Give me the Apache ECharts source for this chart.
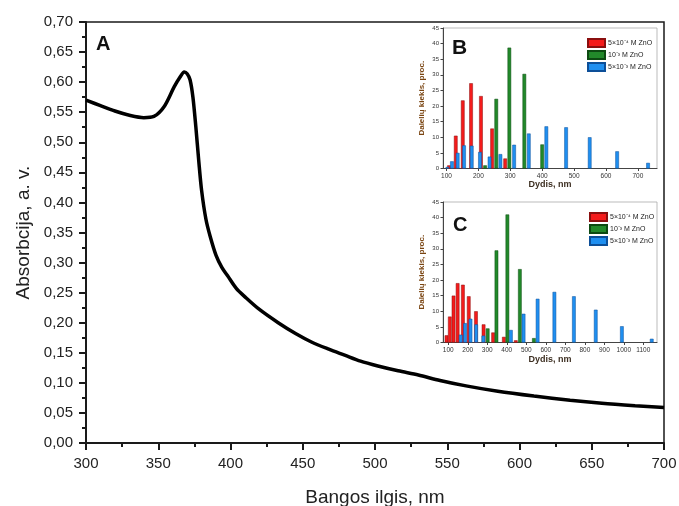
<!DOCTYPE html>
<html><head><meta charset="utf-8">
<script src="https://cdn.jsdelivr.net/npm/echarts@6/dist/echarts.min.js"></script>
<style>html,body{margin:0;padding:0;background:#fff}#c{width:679px;height:506px}</style>
</head><body><div id="c"></div>
<script>
// Main absorption spectrum
const wavelengthNm = [300,310,320,330,340,347,354,361,365,368,370,372,374,376,378,380,383,386,390,394,398,404,410,420,433,445,456,468,479,490,502,516,530,545,563,585,610,635,657,680,700];
const absorbance  = [0.570,0.561,0.552,0.545,0.541,0.543,0.559,0.592,0.608,0.617,0.614,0.604,0.575,0.526,0.470,0.420,0.372,0.343,0.312,0.292,0.278,0.257,0.243,0.222,0.200,0.182,0.168,0.156,0.146,0.136,0.128,0.120,0.113,0.104,0.095,0.086,0.078,0.071,0.066,0.062,0.059];

// Inset B histograms (size nm, percent)
const bRedSize   = [108,129,151,177,208,243,284];
const bRedPct    = [1.0,10.5,21.8,27.3,23.2,12.8,3.2];
const bGreenSize = [221,256,297,344,400];
const bGreenPct  = [1.0,22.3,38.7,30.3,7.7];
const bBlueSize  = [103,117,135,155,179,205,235,269,312,358,413,475,549,635,732];
const bBluePct   = [0.5,2.3,5.0,7.4,7.3,5.3,3.8,4.6,7.6,11.2,13.5,13.2,10.0,5.5,1.8];

// Inset C histograms
const cRedSize   = [91,108,127,148,175,205,242,281,330,385,446];
const cRedPct    = [2.3,8.3,15.0,19.0,18.5,14.8,10.0,5.8,3.2,1.8,0.7];
const cGreenSize = [302,347,403,467,539];
const cGreenPct  = [4.5,29.5,41.0,23.5,1.4];
const cBlueSize  = [164,186,214,243,280,421,486,558,644,744,856,990,1143];
const cBluePct   = [2.5,6.2,7.6,5.8,2.2,4.0,9.2,14.0,16.2,14.8,10.5,5.2,1.2];

const xTicksB = [100,200,300,400,500,600,700];
const xTicksC = [100,200,300,400,500,600,700,800,900,1000,1100];
const legendNames = ['5×10⁻⁴ M ZnO','10⁻³ M ZnO','5×10⁻³ M ZnO'];

const zip = (a,b) => a.map((v,i)=>[v,b[i]]);
const F = 'Liberation Sans, Arial, sans-serif';
const colors = [
  {fill:'#f41b1b', border:'#8a0f0f'},
  {fill:'#22892a', border:'#0d4a12'},
  {fill:'#1f8ff0', border:'#0d4f98'}
];

function barSeries(name, xi, data, ci){
  return {type:'bar', name, xAxisIndex:xi, yAxisIndex:xi, data, barWidth:3.6, barGap:'-100%',
    itemStyle:{color:colors[ci].fill, borderColor:colors[ci].border, borderWidth:0.5}, silent:true, animation:false};
}

function insetX(idx, min, max, ticks, gap){
  return {type:'value', gridIndex:idx, min, max,
    name:'Dydis, nm', nameLocation:'middle', nameGap:gap,
    nameTextStyle:{fontFamily:F, fontSize:9, fontWeight:'bold', color:'#3d2f22'},
    axisLine:{lineStyle:{color:'#444', width:1}},
    axisTick:{show:true, customValues:ticks, length:2.5, lineStyle:{color:'#444'}},
    axisLabel:{customValues:ticks, fontFamily:F, fontSize:6.5, color:'#333', margin:4, formatter:v=>String(v)},
    splitLine:{show:false}};
}
function insetY(idx){
  return {type:'value', gridIndex:idx, min:0, max:45, interval:5,
    name:'Dalelių kiekis, proc.', nameLocation:'middle', nameGap:17,
    nameTextStyle:{fontFamily:F, fontSize:8, fontWeight:'bold', color:'#7a4512'},
    axisLine:{show:true, lineStyle:{color:'#444', width:1}},
    axisTick:{show:true, length:2.5, lineStyle:{color:'#444'}},
    axisLabel:{fontFamily:F, fontSize:6, color:'#333', margin:4},
    splitLine:{show:false}};
}
function legendAt(left, top){
  return {left, top, orient:'vertical', itemWidth:17, itemHeight:8, itemGap:2,
    icon:'rect', data:legendNames, selectedMode:false,
    textStyle:{fontFamily:F, fontSize:7, color:'#222', padding:[0,0,0,-2]}};
}

const chart = echarts.init(document.getElementById('c'), null, {renderer:'canvas'});
chart.setOption({
  animation:false,
  backgroundColor:'#fff',
  grid:[
    {left:86, right:15, top:22, bottom:63, outerBoundsMode:'none', show:true, borderColor:'#1a1a1a', borderWidth:1.5, backgroundColor:'transparent'},
    {left:443, right:22, top:28, bottom:337.5, outerBoundsMode:'none', show:true, borderColor:'#aaa', borderWidth:0.8, backgroundColor:'#fff'},
    {left:443, right:22, top:202, bottom:163.5, outerBoundsMode:'none', show:true, borderColor:'#aaa', borderWidth:0.8, backgroundColor:'#fff'}
  ],
  xAxis:[
    {type:'value', gridIndex:0, min:300, max:700, interval:50,
     name:'Bangos ilgis, nm', nameLocation:'middle', nameGap:45,
     nameTextStyle:{fontFamily:F, fontSize:19, color:'#222'},
     axisLine:{lineStyle:{color:'#1a1a1a', width:2}},
     axisTick:{length:7, lineStyle:{color:'#1a1a1a', width:2}},
     minorTick:{show:true, splitNumber:2, length:4, lineStyle:{color:'#1a1a1a', width:2}},
     axisLabel:{fontFamily:F, fontSize:15, color:'#222', margin:13},
     splitLine:{show:false}},
    insetX(1, 89, 760, xTicksB, 12),
    insetX(2, 73, 1170, xTicksC, 13)
  ],
  yAxis:[
    {type:'value', gridIndex:0, min:0, max:0.7, interval:0.05,
     name:'Absorbcija, a. v.', nameLocation:'middle', nameGap:53,
     nameTextStyle:{fontFamily:F, fontSize:19, color:'#222'},
     axisLine:{show:true, lineStyle:{color:'#1a1a1a', width:2}},
     axisTick:{show:true, length:7, lineStyle:{color:'#1a1a1a', width:2}},
     minorTick:{show:true, splitNumber:2, length:4, lineStyle:{color:'#1a1a1a', width:2}},
     axisLabel:{fontFamily:F, fontSize:15, color:'#222', margin:13,
       formatter:v=>v.toFixed(2).replace('.',',')},
     splitLine:{show:false}},
    insetY(1),
    insetY(2)
  ],
  legend:[legendAt(582,33), legendAt(584,207)],
  graphic:[
    {type:'text', left:96, top:34, style:{text:'A', font:'bold 20px '+F, fill:'#111'}},
    {type:'text', left:452, top:38, style:{text:'B', font:'bold 21px '+F, fill:'#111'}},
    {type:'text', left:453, top:215, style:{text:'C', font:'bold 20px '+F, fill:'#111'}}
  ],
  series:[
    {type:'line', xAxisIndex:0, yAxisIndex:0, data:zip(wavelengthNm, absorbance), smooth:0.3,
     showSymbol:false, lineStyle:{color:'#000', width:3.5}, silent:true},
    barSeries(legendNames[0],1,zip(bRedSize,bRedPct),0),
    barSeries(legendNames[1],1,zip(bGreenSize,bGreenPct),1),
    barSeries(legendNames[2],1,zip(bBlueSize,bBluePct),2),
    barSeries(legendNames[0],2,zip(cRedSize,cRedPct),0),
    barSeries(legendNames[1],2,zip(cGreenSize,cGreenPct),1),
    barSeries(legendNames[2],2,zip(cBlueSize,cBluePct),2)
  ]
});
</script></body></html>
